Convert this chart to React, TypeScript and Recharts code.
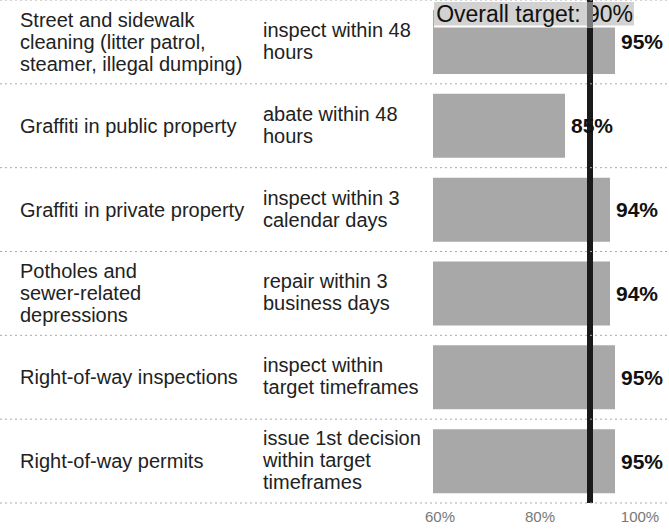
import React from 'react';
import { BarChart, Bar, XAxis, YAxis, ReferenceLine, LabelList } from 'recharts';

const categories = [
  ['Street and sidewalk', 'cleaning (litter patrol,', 'steamer, illegal dumping)'],
  ['Graffiti in public property'],
  ['Graffiti in private property'],
  ['Potholes and', 'sewer-related', 'depressions'],
  ['Right-of-way inspections'],
  ['Right-of-way permits'],
];

const standards = [
  ['inspect within 48', 'hours'],
  ['abate within 48', 'hours'],
  ['inspect within 3', 'calendar days'],
  ['repair within 3', 'business days'],
  ['inspect within', 'target timeframes'],
  ['issue 1st decision', 'within target', 'timeframes'],
];

const values = [95, 85, 94, 94, 95, 95];
const target = 90;
const xTicks = [60, 80, 100];

const data = categories.map((c, i) => ({ name: String(i), value: values[i] }));

const W = 669;
const H = 532;
const X_AXIS_H = 29;
const BAND = (H - X_AXIS_H) / categories.length;
const FONT = 'Arial, "Liberation Sans", Helvetica, sans-serif';

const RowTick = (props: any) => {
  const { y, payload } = props;
  const i = Number(payload.value);
  const cat = categories[i];
  const std = standards[i];
  const lh = 22;
  const renderLines = (lines: string[], x: number, dy: number) =>
    lines.map((t, k) => (
      <text
        key={k}
        x={x}
        y={y + dy + (k - (lines.length - 1) / 2) * lh}
        dy="0.35em"
        fontSize={20}
        fontFamily={FONT}
        fill="#222"
      >
        {t}
      </text>
    ));
  return (
    <g>
      <line x1={0} x2={W} y1={y - BAND / 2} y2={y - BAND / 2} stroke="#aaa" strokeDasharray="2 3" />
      {i === categories.length - 1 && (
        <line x1={0} x2={W} y1={y + BAND / 2} y2={y + BAND / 2} stroke="#aaa" strokeDasharray="2 3" />
      )}
      {renderLines(cat, 20, 0)}
      {renderLines(std, 263, -1)}
    </g>
  );
};

// label box sits over the top of the first bar; the target line shows through it
const TargetLabel = (props: any) => {
  const { viewBox } = props;
  const x = viewBox.x;
  return (
    <g>
      <rect x={434} y={2} width={200} height={24} fill="#d2d2d2" />
      <line x1={434} x2={634} y1={26.5} y2={26.5} stroke="#fff" strokeWidth={2} />
      <text x={x + 43} y={14} dy="0.35em" textAnchor="end" fontSize={23} fontFamily={FONT} fill="#111">
        Overall target: 90%
      </text>
      <rect x={x - 3} y={2} width={6} height={25} fill="#7a7a7a" />
    </g>
  );
};

export default function App() {
  return (
    <div style={{ width: W, height: H, background: '#fff' }}>
      <style>{'body{margin:0}'}</style>
      <BarChart
        width={W}
        height={H}
        data={data}
        layout="vertical"
        margin={{ top: 0, right: 4, bottom: 0, left: 0 }}
      >
        <XAxis
          type="number"
          domain={[58.6, 105]}
          ticks={xTicks}
          tickFormatter={(v: number) => `${v}%`}
          axisLine={false}
          tickLine={false}
          height={X_AXIS_H}
          tick={{ fontSize: 15, fill: '#777', fontFamily: FONT }}
          allowDataOverflow
        />
        <YAxis
          type="category"
          dataKey="name"
          width={433}
          axisLine={false}
          tickLine={false}
          interval={0}
          tick={<RowTick />}
        />
        <Bar dataKey="value" fill="#a8a8a8" barSize={64} isAnimationActive={false}>
          <LabelList
            dataKey="value"
            position="right"
            offset={6}
            formatter={(v: number) => `${v}%`}
            style={{ fontSize: 21, fontWeight: 'bold', fill: '#111', fontFamily: FONT }}
          />
        </Bar>
        <ReferenceLine
          x={target}
          stroke="#1a1a1a"
          strokeWidth={6}
          label={<TargetLabel />}
        />
      </BarChart>
    </div>
  );
}
